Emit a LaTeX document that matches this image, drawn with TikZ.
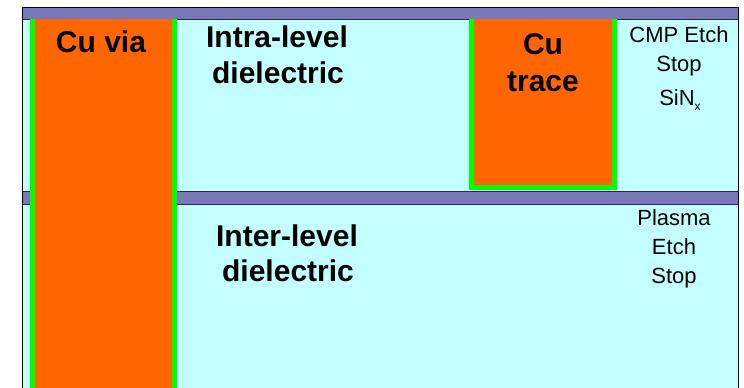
\documentclass[tikz,border=0pt]{standalone}
\usepackage{fontspec}
\setmainfont{Liberation Sans}
\definecolor{bgcyan}{RGB}{196,255,255}
\definecolor{barpurple}{RGB}{120,120,186}
\definecolor{cuorange}{RGB}{255,102,0}
\definecolor{linergreen}{RGB}{0,255,0}
\definecolor{bardark}{RGB}{40,40,70}
\tikzset{
  boldlbl/.style={anchor=base, inner sep=0pt, font=\fontsize{30}{36}\selectfont\bfseries},
  reglbl/.style={anchor=base, inner sep=0pt, font=\fontsize{22}{28}\selectfont},
}
\begin{document}
\begin{tikzpicture}[x=1pt,y=-1pt]
\useasboundingbox (0,0) rectangle (744,388);
% background dielectric
\fill[bgcyan] (22,7) rectangle (738,388);
% top cap bar
\fill[barpurple] (22,7) rectangle (738,19);
\draw[bardark,line width=0.8pt] (22,19) -- (738,19);
% middle etch stop bar
\fill[barpurple] (22,191) rectangle (738,204);
\draw[bardark,line width=0.8pt] (22,191) -- (738,191) (22,204) -- (738,204);
% Cu via with green liner
\fill[linergreen] (30,19) rectangle (177,388);
\fill[cuorange] (35,19) rectangle (172,388);
% Cu trace with green liner
\fill[linergreen] (469,19) rectangle (617,190);
\fill[cuorange] (474,19) rectangle (612,185);
% frame
\draw[black,line width=1pt] (22,388) -- (22,7) -- (738,7) -- (738,388);
% labels
\node[boldlbl] (via) at (101,52) {Cu via};
\node[boldlbl] (intra1) at (277,47) {Intra-level};
\node[boldlbl] (intra2) at (278,83) {dielectric};
\node[boldlbl] (tr1) at (543,54) {Cu};
\node[boldlbl] (tr2) at (543,91) {trace};
\node[reglbl] (cmp1) at (679,42) {CMP Etch};
\node[reglbl] (cmp2) at (679,71) {Stop};
\node[reglbl] (cmp3) at (680,105) {SiN\raisebox{-0.45ex}{\fontsize{12}{14}\selectfont x}};
\node[boldlbl] (inter1) at (287,246) {Inter-level};
\node[boldlbl] (inter2) at (288,281) {dielectric};
\node[reglbl] (pl1) at (674,225) {Plasma};
\node[reglbl] (pl2) at (674,254) {Etch};
\node[reglbl] (pl3) at (674,283) {Stop};
\end{tikzpicture}
\end{document}
